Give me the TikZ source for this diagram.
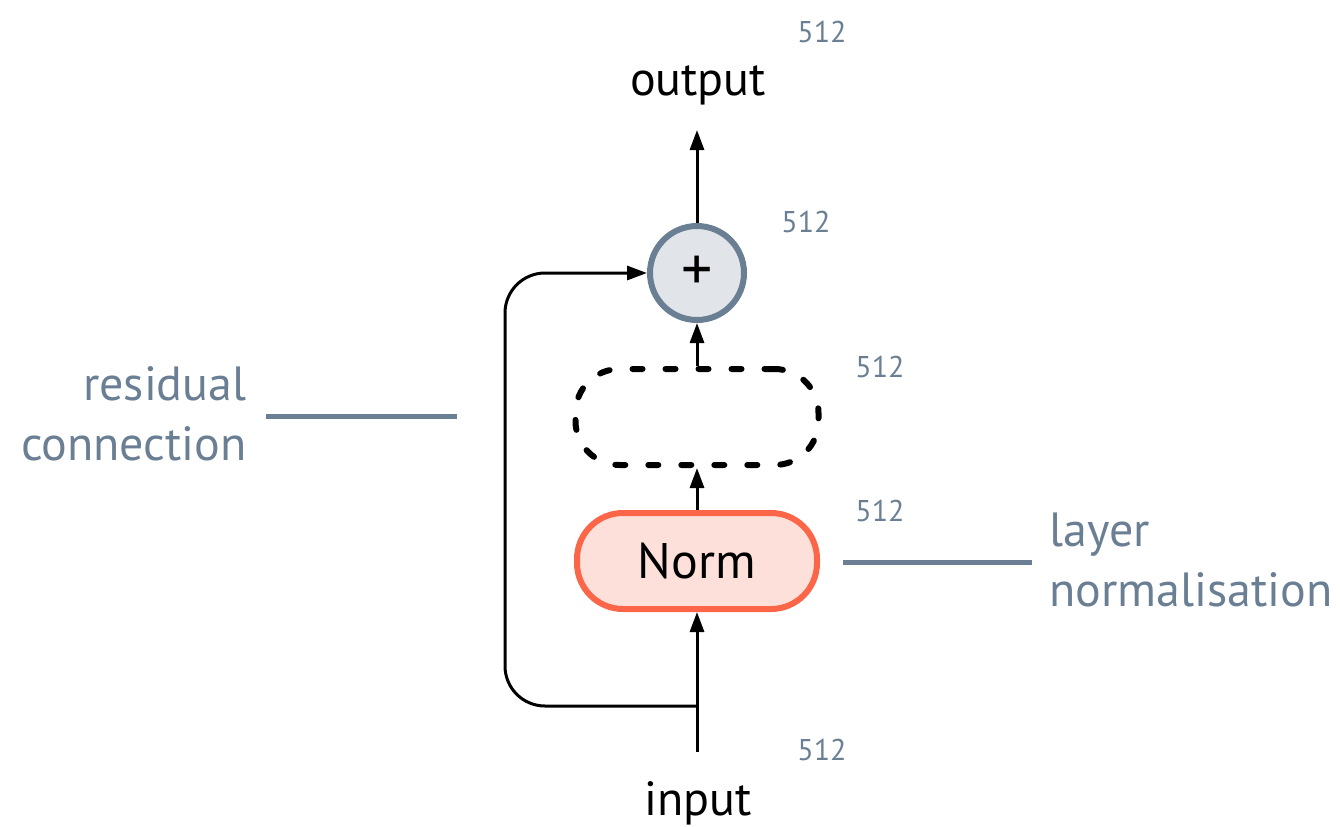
\documentclass[tikz,border=0pt]{standalone}
\usepackage{fontspec}
\setmainfont{PT Sans}
\usetikzlibrary{arrows.meta}
\definecolor{slate}{HTML}{6A7F93}
\definecolor{circfill}{HTML}{E1E4E9}
\definecolor{normline}{HTML}{FB6649}
\definecolor{normfill}{HTML}{FDE0D9}
\tikzset{
  big/.style={font=\fontsize{48}{56}\selectfont, text=black},
  dimlabel/.style={font=\fontsize{30}{34}\selectfont, text=slate},
  note/.style={font=\fontsize{48}{60}\selectfont, text=slate, align=left},
  conn/.style={line width=3pt, draw=black, -{Triangle[length=20pt,width=14pt]}},
  plain/.style={line width=3pt, draw=black},
  leader/.style={line width=5pt, draw=slate},
}
\begin{document}
\begin{tikzpicture}[x=1pt,y=-1pt]
\useasboundingbox (0,0) rectangle (1341,827);
% nodes
\node[big, anchor=base] (out) at (698,95) {output};
\node[big, anchor=base] (in) at (698,815) {input};
\node[circle, minimum size=94pt, line width=6pt, draw=slate, fill=circfill, inner sep=0pt, font=\fontsize{64}{64}\selectfont] (add) at (697,273) {};
\node[font=\fontsize{62}{62}\selectfont, inner sep=0pt] (plus) at (add.center) {+};
\node[rounded corners=44pt, minimum width=243pt, minimum height=96pt, draw=black, line width=6pt, dash pattern=on 10pt off 23pt, line cap=round] (ff) at (697,417) {};
\node[rounded corners=46pt, minimum width=240pt, minimum height=96pt, draw=normline, fill=normfill, line width=6pt, font=\fontsize{50}{56}\selectfont] (norm) at (697,561) {Norm};
% dimension labels
\node[dimlabel] (d1) at (822,32) {512};
\node[dimlabel] (d2) at (806,222) {512};
\node[dimlabel] (d3) at (880,367) {512};
\node[dimlabel] (d4) at (880,511) {512};
\node[dimlabel] (d5) at (822,750) {512};
% notes
\node[note, anchor=east, align=right] (res) at (250,414) {residual\\connection};
\node[note, anchor=west] (ln) at (1046,560) {layer\\normalisation};
\coordinate (resA) at (266,416);
\coordinate (resB) at (457,416);
\coordinate (lnA) at (843,562);
\coordinate (lnB) at (1032,562);
\draw[leader] (resA) -- (resB);
\draw[leader] (lnA) -- (lnB);
% connectors
\coordinate (inbot) at (697,752);
\coordinate (split) at (697,706);
\coordinate (outtip) at (697,130);
\draw[conn] (inbot) -- (norm.south);
\draw[conn] (norm.north) -- (ff.south);
\draw[conn] (ff.north) -- (add.south);
\draw[conn] (add.north) -- (outtip);
\draw[conn, rounded corners=40pt] (split) -- (505,706) -- (505,273) -- (add.west);
\end{tikzpicture}
\end{document}
